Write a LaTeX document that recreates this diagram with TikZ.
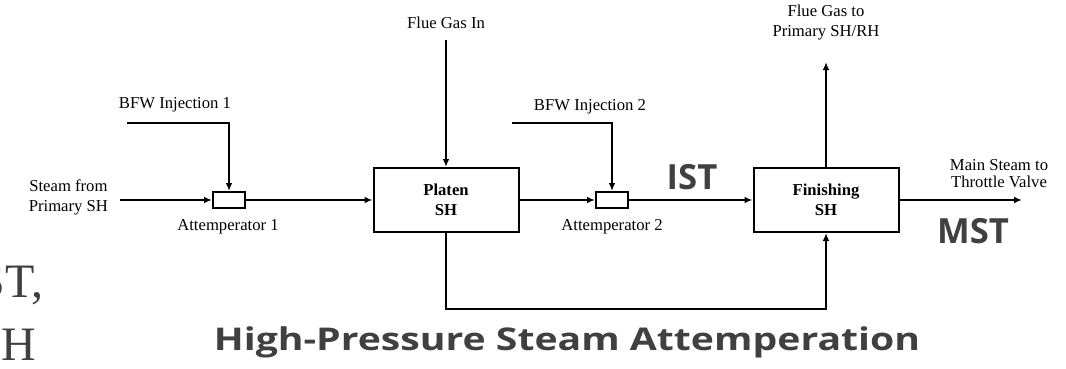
\documentclass[tikz,border=0pt]{standalone}
\usepackage{fontspec}
\setmainfont{Liberation Serif}
\newfontfamily\boldsans{Open Sans}
\usepackage{xcolor}
\usetikzlibrary{arrows.meta,positioning}
\definecolor{darktext}{HTML}{404040}

\begin{document}
\begin{tikzpicture}[x=0.75pt,y=-0.75pt,>={Latex[length=6pt,width=5pt]},line width=1.5pt,
  lbl/.style={align=center,inner sep=0pt,font=\fontsize{12.5}{15}\selectfont},
  unit/.style={draw,line width=1.5pt,minimum width=108.75pt,minimum height=48pt,align=center,
    font=\fontsize{12.5}{15}\selectfont\bfseries},
  attbox/.style={draw,line width=1.5pt,minimum width=24pt,minimum height=12pt,inner sep=0pt},
  big/.style={inner sep=0pt,text=darktext,font=\boldsans\bfseries\fontsize{26}{30}\selectfont},
  cut/.style={anchor=base east,inner sep=0pt,text=darktext,font=\fontsize{36}{40}\selectfont}]
\useasboundingbox (0,0) rectangle (1066,368);
\node[attbox] (att1) at (229,200) {};
\node[unit] (platen) at (446,200) {Platen\\SH};
\node[attbox] (att2) at (612,200) {};
\node[unit] (finish) at (826,200) {Finishing\\SH};
\coordinate (steamin) at (120,200);
\coordinate (bfw1) at (127,123);
\coordinate (bfw2) at (512,123);
\coordinate (fluein) at (446,40);
\coordinate (flueout) at (826,62);
\coordinate (mainout) at (1022,200);
\node[lbl,anchor=east] (steamlbl) at (109,197) {Steam from\\Primary SH};
\node[lbl] (bfw1lbl) at (175,105) {BFW Injection 1};
\node[lbl] (att1lbl) at (228,227) {Attemperator 1};
\node[lbl] (fluelbl) at (446,23) {Flue Gas In};
\node[lbl] (bfw2lbl) at (590,107) {BFW Injection 2};
\node[lbl] (att2lbl) at (612,227) {Attemperator 2};
\node[lbl] (outlbl) at (826,23) {Flue Gas to\\Primary SH/RH};
\node[lbl,font=\fontsize{12.5}{12.75}\selectfont] (mainlbl) at (999,174) {Main Steam to\\Throttle Valve};
\node[big] (ist) at (692,177) {IST};
\node[big] (mst) at (973,231) {MST};
\node[big,anchor=base,font=\boldsans\bfseries\fontsize{23.5}{28}\selectfont] (title) at (567,350)
  {\scalebox{1.25}[1]{High-Pressure Steam Attemperation}};
\node[cut] (cutone) at (44,297) {ST,};
\node[cut] (cuttwo) at (37,360) {H};
\draw[->](steamin)--(att1.west);
\draw[->](bfw1)-|(att1.north);
\draw[->](att1.east)--(platen.west);
\draw[->](fluein)--(platen.north);
\draw[->](platen.east)--(att2.west);
\draw[->](bfw2)-|(att2.north);
\draw[->](att2.east)--(finish.west);
\draw[->](finish.north)--(flueout);
\draw[->](finish.east)--(mainout);
\draw[->](platen.south)--++(0,76)-|(finish.south);
\end{tikzpicture}
\end{document}
